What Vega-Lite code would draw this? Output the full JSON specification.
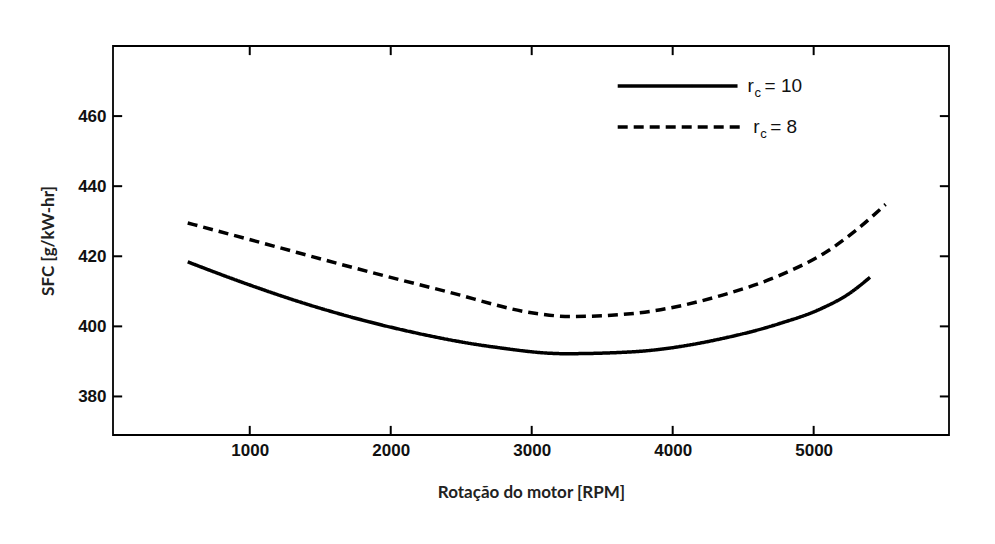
{
  "$schema": "https://vega.github.io/schema/vega-lite/v6.json",
  "width": 836,
  "height": 389,
  "autosize": {"type": "none"},
  "padding": {"left": 113, "top": 46, "right": 46, "bottom": 109},
  "background": "white",
  "config": {
    "view": {"stroke": "black", "strokeWidth": 1.8},
    "axis": {
      "domain": false,
      "grid": false,
      "ticks": false,
      "labelPadding": 7,
      "labelFont": "Liberation Sans",
      "labelFontSize": 17,
      "labelFontWeight": "bold",
      "labelColor": "#111",
      "titleFont": "Lato",
      "titleFontSize": 17,
      "titleFontWeight": "bold",
      "titleColor": "#222"
    }
  },
  "datasets": {
    "curves": [
      {"rpm": 560, "sfc": 418.4, "serie": "rc = 10"},
      {"rpm": 1000, "sfc": 411.8, "serie": "rc = 10"},
      {"rpm": 1400, "sfc": 406.4, "serie": "rc = 10"},
      {"rpm": 2060, "sfc": 399.2, "serie": "rc = 10"},
      {"rpm": 2715, "sfc": 394.2, "serie": "rc = 10"},
      {"rpm": 3240, "sfc": 392.2, "serie": "rc = 10"},
      {"rpm": 3700, "sfc": 392.7, "serie": "rc = 10"},
      {"rpm": 4360, "sfc": 396.6, "serie": "rc = 10"},
      {"rpm": 4750, "sfc": 400.7, "serie": "rc = 10"},
      {"rpm": 5050, "sfc": 405.0, "serie": "rc = 10"},
      {"rpm": 5250, "sfc": 409.3, "serie": "rc = 10"},
      {"rpm": 5400, "sfc": 414.0, "serie": "rc = 10"},
      {"rpm": 560, "sfc": 429.5, "serie": "rc = 8"},
      {"rpm": 1070, "sfc": 424.0, "serie": "rc = 8"},
      {"rpm": 1730, "sfc": 416.8, "serie": "rc = 8"},
      {"rpm": 2390, "sfc": 410.0, "serie": "rc = 8"},
      {"rpm": 3045, "sfc": 403.6, "serie": "rc = 8"},
      {"rpm": 3275, "sfc": 402.8, "serie": "rc = 8"},
      {"rpm": 3700, "sfc": 403.6, "serie": "rc = 8"},
      {"rpm": 4360, "sfc": 409.0, "serie": "rc = 8"},
      {"rpm": 4750, "sfc": 414.4, "serie": "rc = 8"},
      {"rpm": 5100, "sfc": 421.5, "serie": "rc = 8"},
      {"rpm": 5300, "sfc": 427.4, "serie": "rc = 8"},
      {"rpm": 5510, "sfc": 434.8, "serie": "rc = 8"}
    ],
    "legend": [
      {"serie": "rc = 10", "x1": 3610, "x2": 4460, "y": 468.6, "r": "r", "sub": "c", "rest": "= 10"},
      {"serie": "rc = 8", "x1": 3610, "x2": 4500, "y": 456.9, "r": "r", "sub": "c", "rest": "= 8"}
    ],
    "xticks": [{"v": 1000}, {"v": 2000}, {"v": 3000}, {"v": 4000}, {"v": 5000}],
    "yticks": [{"v": 380}, {"v": 400}, {"v": 420}, {"v": 440}, {"v": 460}]
  },
  "layer": [
    {
      "data": {"name": "curves"},
      "mark": {"type": "line", "interpolate": "monotone", "color": "black", "strokeWidth": 3.5},
      "encoding": {
        "x": {
          "field": "rpm", "type": "quantitative",
          "scale": {"domain": [30, 5960], "nice": false, "zero": false},
          "axis": {"orient": "bottom", "values": [1000, 2000, 3000, 4000, 5000], "title": "Rotação do motor [RPM]", "titlePadding": 26, "format": "d"}
        },
        "y": {
          "field": "sfc", "type": "quantitative",
          "scale": {"domain": [369, 480], "nice": false, "zero": false},
          "axis": {"orient": "left", "values": [380, 400, 420, 440, 460], "title": "SFC [g/kW-hr]", "titlePadding": 20}
        },
        "strokeDash": {
          "field": "serie", "type": "nominal",
          "scale": {"domain": ["rc = 10", "rc = 8"], "range": [[1, 0], [10, 6]]},
          "legend": null
        },
        "detail": {"field": "serie"}
      }
    },
    {
      "data": {"name": "xticks"},
      "mark": {"type": "rule", "color": "black", "strokeWidth": 2},
      "encoding": {
        "x": {"field": "v", "type": "quantitative"},
        "y": {"datum": 369},
        "y2": {"datum": 371.6}
      }
    },
    {
      "data": {"name": "xticks"},
      "mark": {"type": "rule", "color": "black", "strokeWidth": 2},
      "encoding": {
        "x": {"field": "v", "type": "quantitative"},
        "y": {"datum": 480},
        "y2": {"datum": 477.4}
      }
    },
    {
      "data": {"name": "yticks"},
      "mark": {"type": "rule", "color": "black", "strokeWidth": 2},
      "encoding": {
        "y": {"field": "v", "type": "quantitative"},
        "x": {"datum": 30},
        "x2": {"datum": 95}
      }
    },
    {
      "data": {"name": "yticks"},
      "mark": {"type": "rule", "color": "black", "strokeWidth": 2},
      "encoding": {
        "y": {"field": "v", "type": "quantitative"},
        "x": {"datum": 5960},
        "x2": {"datum": 5895}
      }
    },
    {
      "data": {"name": "legend"},
      "mark": {"type": "rule", "color": "black", "strokeWidth": 3.5},
      "encoding": {
        "x": {"field": "x1", "type": "quantitative"},
        "x2": {"field": "x2"},
        "y": {"field": "y", "type": "quantitative"},
        "strokeDash": {
          "field": "serie", "type": "nominal",
          "scale": {"domain": ["rc = 10", "rc = 8"], "range": [[1, 0], [10, 6]]},
          "legend": null
        }
      }
    },
    {
      "data": {"name": "legend"},
      "mark": {"type": "text", "align": "left", "baseline": "middle", "font": "Liberation Sans", "fontSize": 19, "dx": 10, "color": "#111"},
      "encoding": {
        "x": {"field": "x2", "type": "quantitative"},
        "y": {"field": "y", "type": "quantitative"},
        "text": {"field": "r"}
      }
    },
    {
      "data": {"name": "legend"},
      "mark": {"type": "text", "align": "left", "baseline": "middle", "font": "Liberation Sans", "fontSize": 13, "dx": 17, "dy": 7, "color": "#111"},
      "encoding": {
        "x": {"field": "x2", "type": "quantitative"},
        "y": {"field": "y", "type": "quantitative"},
        "text": {"field": "sub"}
      }
    },
    {
      "data": {"name": "legend"},
      "mark": {"type": "text", "align": "left", "baseline": "middle", "font": "Liberation Sans", "fontSize": 19, "dx": 27, "color": "#111"},
      "encoding": {
        "x": {"field": "x2", "type": "quantitative"},
        "y": {"field": "y", "type": "quantitative"},
        "text": {"field": "rest"}
      }
    }
  ]
}
